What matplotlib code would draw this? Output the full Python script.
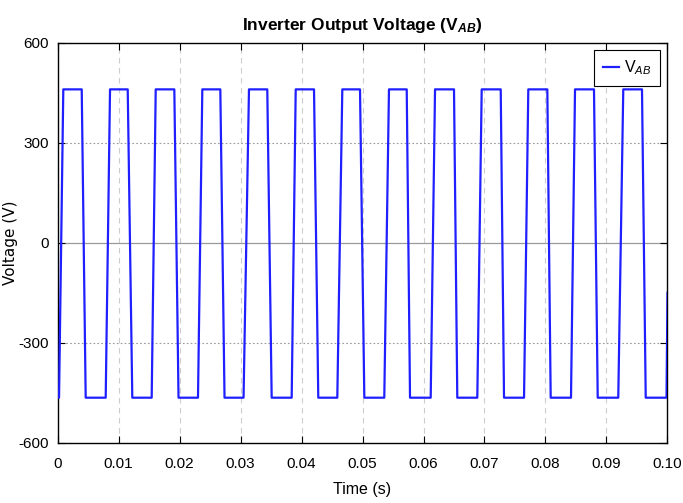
import numpy as np
import matplotlib
matplotlib.use('Agg')
import matplotlib.pyplot as plt

# switching instants (seconds)
rise_start = [0.00025, 0.0079, 0.01544, 0.02303, 0.0305, 0.03839, 0.04587,
              0.05357, 0.06118, 0.06882, 0.07648, 0.08418, 0.09193, 0.09984]
rise_end = [0.00095, 0.00861, 0.0161, 0.02374, 0.03139, 0.03905, 0.04669,
            0.05434, 0.06189, 0.06954, 0.07718, 0.08484, 0.09275]
fall_start = [0.00397, 0.01151, 0.01915, 0.02669, 0.03439, 0.04205, 0.04959,
              0.05725, 0.065, 0.07266, 0.0803, 0.08795, 0.09582]
fall_end = [0.00462, 0.01226, 0.01984, 0.02738, 0.03511, 0.04275, 0.0503,
            0.05779, 0.06554, 0.0732, 0.08085, 0.08856, 0.09643]
v_high = 460
v_low = -465
t_stop = 0.1
v_stop = -150

xticks = [0, 0.01, 0.02, 0.03, 0.04, 0.05, 0.06, 0.07, 0.08, 0.09, 0.10]
xticklabels = ['0', '0.01', '0.02', '0.03', '0.04', '0.05', '0.06', '0.07', '0.08', '0.09', '0.10']
yticks = [-600, -300, 0, 300, 600]
yticklabels = ['-600', '-300', '0', '300', '600']

t = [0.0]
v = [v_low]
for i in range(len(rise_end)):
    t += [rise_start[i], rise_end[i], fall_start[i], fall_end[i]]
    v += [v_low, v_high, v_high, v_low]
t += [rise_start[-1], t_stop]
v += [v_low, v_stop]

plt.rcParams['mathtext.fontset'] = 'custom'
plt.rcParams['mathtext.rm'] = 'Liberation Sans'
plt.rcParams['mathtext.it'] = 'Liberation Sans:italic'
plt.rcParams['mathtext.bf'] = 'Liberation Sans:bold:italic'

sans = 'Liberation Sans'

fig = plt.figure(figsize=(6.83, 5.03), dpi=100)
ax = fig.add_axes([0.0842, 0.1199, 0.8931, 0.7952])

for x in xticks[1:-1]:
    ax.axvline(x, color='#cdcdcd', linestyle=(0, (5, 4)), linewidth=0.8, zorder=1)
for y in [300, -300]:
    ax.axhline(y, color='#9a9a9a', linestyle=(0, (1.5, 2)), linewidth=0.8, zorder=1)
ax.axhline(0, color='#9a9a9a', linewidth=0.9, zorder=1)

ax.plot(t, v, color='#1f1fff', linewidth=1.6, label='V$_{AB}$', zorder=3)

ax.set_xlim(0, 0.1)
ax.set_ylim(-600, 600)
ax.set_xticks(xticks)
ax.set_xticklabels(xticklabels, family=sans, fontsize=11)
ax.set_yticks(yticks)
ax.set_yticklabels(yticklabels, family=sans, fontsize=11)
ax.tick_params(axis='x', pad=10)
ax.tick_params(direction='in', length=5, width=0.8, top=True, right=True)
ax.tick_params(axis='y', pad=6)
for s in ax.spines.values():
    s.set_linewidth(1.0)

ax.set_title('Inverter Output Voltage (V$_{\\mathbf{AB}}$)', family=sans, fontsize=12.5,
             fontweight='bold', pad=9)
ax.set_xlabel('Time (s)', family=sans, fontsize=11.5, labelpad=8)
ax.set_ylabel('Voltage (V)', fontsize=11)
ax.yaxis.set_label_coords(-0.065, 0.5)

leg = ax.legend(loc='upper right', prop={'family': sans, 'size': 11.5}, fancybox=False,
                framealpha=1, edgecolor='black', handlelength=1.0, handletextpad=0.35,
                borderaxespad=0.45, borderpad=0.55)
leg.get_frame().set_linewidth(0.8)

fig.savefig('out.png', dpi=100)
